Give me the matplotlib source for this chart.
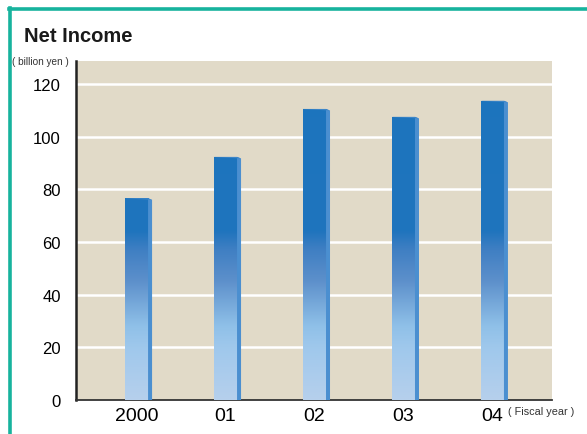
import numpy as np
import matplotlib
matplotlib.use("Agg")
import matplotlib.pyplot as plt
from matplotlib.colors import LinearSegmentedColormap
from matplotlib.patches import Polygon
from matplotlib.lines import Line2D

years = ["2000", "01", "02", "03", "04"]
net_income = [76.6, 92.3, 110.5, 107.5, 113.6]
yticks = [0, 20, 40, 60, 80, 100, 120]

plt.rcParams['font.family'] = ['Liberation Sans', 'DejaVu Sans']

fig = plt.figure(figsize=(5.87, 4.35), dpi=100)
ax = fig.add_axes([76 / 587, 34 / 435, 476 / 587, 339 / 435])
ax.set_facecolor("#e1dac8")

ymax = 128.7
ax.set_xlim(-0.68, 4.67)
ax.set_ylim(0, ymax)

# vertical gradient by height (dark top, light bottom)
cmap = LinearSegmentedColormap.from_list("bar", [
    (0.0, "#b6d0ec"),
    (20 / ymax, "#9fc8ec"),
    (28 / ymax, "#8fc0e8"),
    (45 / ymax, "#5d90cb"),
    (57 / ymax, "#3f7fc3"),
    (64 / ymax, "#1f74bd"),
    (1.0, "#1c75be"),
])
grad = np.linspace(0, 1, 256).reshape(-1, 1)

w = 0.26
d = 0.045
x = np.arange(len(years))
bars = ax.bar(x, net_income, width=w, color="none", zorder=3)
for b, v in zip(bars, net_income):
    x0 = b.get_x()
    im = ax.imshow(grad, cmap=cmap, origin="lower", aspect="auto",
                   extent=(x0, x0 + w, 0, ymax), vmin=0, vmax=1, zorder=3)
    im.set_clip_path(b)
    side = Polygon([(x0 + w, 0), (x0 + w + d, 0), (x0 + w + d, v - 0.6),
                    (x0 + w, v)], closed=True, facecolor="#4b8fd0",
                   edgecolor="none", zorder=3)
    ax.add_patch(side)
    top = Polygon([(x0, v), (x0 + w, v), (x0 + w + d, v - 0.6),
                   (x0 + d * 0.5, v - 0.1)], closed=True,
                  facecolor="#3d86c8", edgecolor="none", zorder=4)
    ax.add_patch(top)

ax.set_xlim(-0.68, 4.67)
ax.set_ylim(0, ymax)

ax.set_yticks(yticks)
ax.set_yticklabels([str(t) for t in yticks], fontsize=12, color="black")
ax.set_xticks(x)
ax.set_xticklabels(years, fontsize=14, color="black")
ax.tick_params(axis="y", length=0, pad=11)
ax.tick_params(axis="x", length=0, pad=5)

for t in yticks[1:]:
    ax.axhline(t, color="white", lw=1.8, zorder=1)

for s in ["top", "right"]:
    ax.spines[s].set_visible(False)
ax.spines["left"].set_color("#222222")
ax.spines["left"].set_linewidth(1.8)
ax.spines["bottom"].set_color("#333333")
ax.spines["bottom"].set_linewidth(1.3)

fig.text(24 / 587, 1 - 27 / 435, "Net Income", fontsize=14.5, fontweight="bold",
         color="#1a1a1a", va="top", ha="left",
         family=['Liberation Sans Narrow', 'Liberation Sans'])
fig.text(12 / 587, 1 - 57 / 435, "( billion yen )", fontsize=7.2,
         color="#333333", va="top", ha="left",
         family=['Liberation Sans Narrow', 'Liberation Sans'])
fig.text(508 / 587, 1 - 407 / 435, "( Fiscal year )", fontsize=7.8,
         color="#333333", va="top", ha="left",
         family=['Liberation Sans Narrow', 'Liberation Sans'])

# green frame
green = "#17b39d"
fig.add_artist(Line2D([9 / 587, 1], [1 - 10 / 435, 1 - 10 / 435],
                      transform=fig.transFigure, color=green, lw=2.6))
fig.add_artist(Line2D([10 / 587, 10 / 587], [0, 1 - 9 / 435],
                      transform=fig.transFigure, color=green, lw=2.6))

fig.savefig("out.png", dpi=100)
